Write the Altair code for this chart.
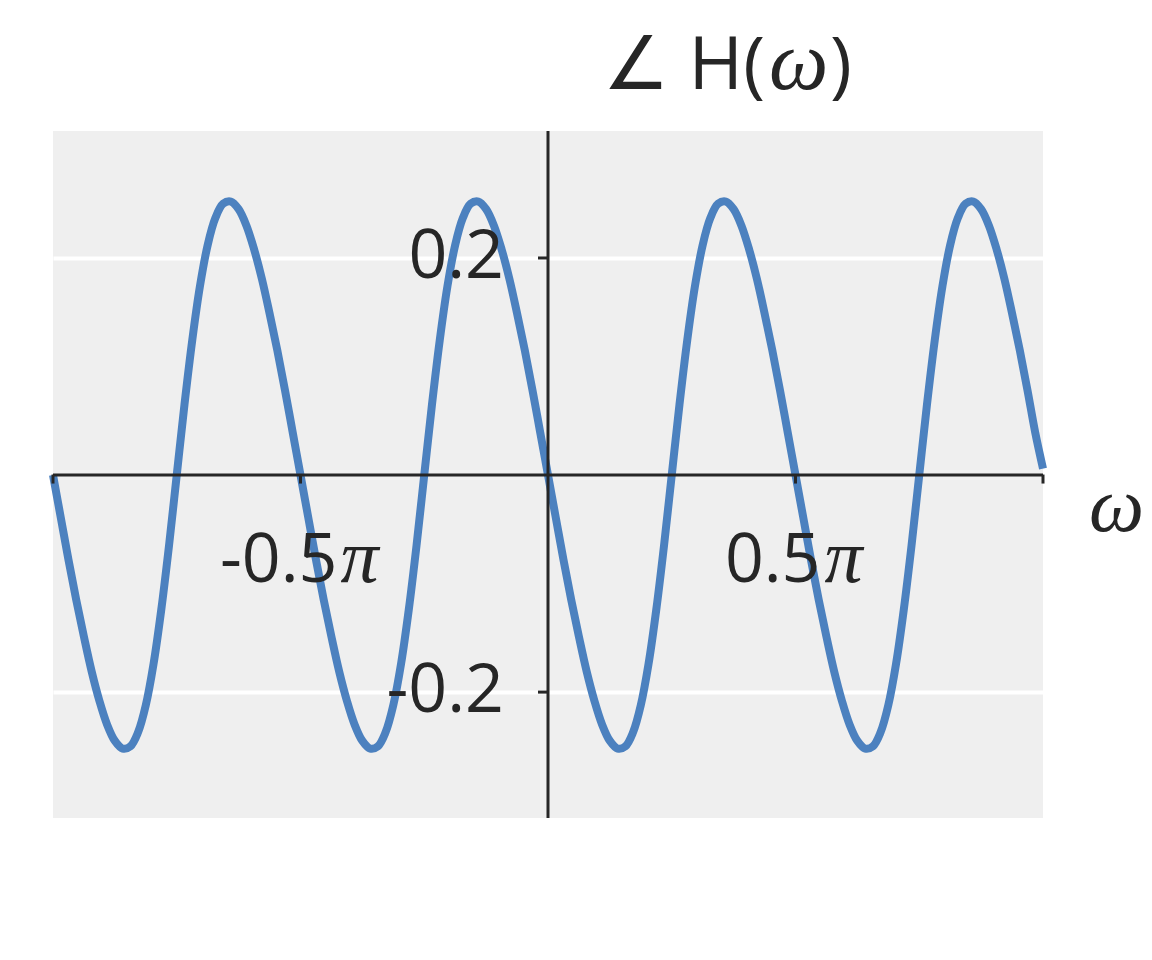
import altair as alt
import pandas as pd

# omega in units of pi, sampled every pi/64 from -pi to pi
omega = [i / 64 - 1 for i in range(129)]
# phase of H(omega) in radians
phase = [
    0.000, -0.039, -0.078, -0.115, -0.149, -0.181, -0.208, -0.230,
    -0.245, -0.252, -0.250, -0.237, -0.212, -0.174, -0.124, -0.065,
    0.000, 0.065, 0.124, 0.174, 0.212, 0.237, 0.250, 0.252,
    0.245, 0.230, 0.208, 0.181, 0.149, 0.115, 0.078, 0.039,
    0.000, -0.039, -0.078, -0.115, -0.149, -0.181, -0.208, -0.230,
    -0.245, -0.252, -0.250, -0.237, -0.212, -0.174, -0.124, -0.065,
    0.000, 0.065, 0.124, 0.174, 0.212, 0.237, 0.250, 0.252,
    0.245, 0.230, 0.208, 0.181, 0.149, 0.115, 0.078, 0.039,
    0.000, -0.039, -0.078, -0.115, -0.149, -0.181, -0.208, -0.230,
    -0.245, -0.252, -0.250, -0.237, -0.212, -0.174, -0.124, -0.065,
    0.000, 0.065, 0.124, 0.174, 0.212, 0.237, 0.250, 0.252,
    0.245, 0.230, 0.208, 0.181, 0.149, 0.115, 0.078, 0.039,
    0.000, -0.039, -0.078, -0.115, -0.149, -0.181, -0.208, -0.230,
    -0.245, -0.252, -0.250, -0.237, -0.212, -0.174, -0.124, -0.065,
    0.000, 0.065, 0.124, 0.174, 0.212, 0.237, 0.250, 0.252,
    0.245, 0.230, 0.208, 0.181, 0.149, 0.115, 0.078, 0.039,
    0.006,
]
x_ticks = [-1.0, -0.5, 0.5, 1.0]
x_label_vals = [-0.5, 0.5]
x_label_nums = ["-0.5", "0.5"]
y_ticks = [-0.2, 0.2]
y_labels = ["-0.2", "0.2"]

SANS = "Open Sans"
SERIF = "Liberation Serif"
INK = "#262626"
LBL = 68

df = pd.DataFrame({"w": omega, "phase": phase})
xs = alt.Scale(domain=[-1, 1], nice=False, zero=False)
ys = alt.Scale(domain=[-0.316, 0.317], nice=False, zero=False)

line = alt.Chart(df).mark_line(color="#4C81BF", strokeWidth=8, interpolate="catmull-rom",
                               strokeJoin="round", strokeCap="butt").encode(
    x=alt.X("w:Q", scale=xs, axis=None),
    y=alt.Y("phase:Q", scale=ys, axis=alt.Axis(
        values=y_ticks, grid=True, gridColor="white", gridWidth=4, gridOpacity=1,
        domain=False, ticks=False, labels=False, title=None)),
)

one = alt.Data(values=[{"a": 1}])
vrule = alt.Chart(one).mark_rule(color=INK, strokeWidth=3).encode(x=alt.X(datum=0, scale=xs))
hrule = alt.Chart(one).mark_rule(color=INK, strokeWidth=3).encode(y=alt.Y(datum=0, scale=ys))

ydf = pd.DataFrame({"y": y_ticks, "lab": y_labels})
xdf = pd.DataFrame({"x": x_ticks})

yticks = alt.Chart(ydf).mark_tick(color=INK, opacity=1, orient="horizontal", size=10, thickness=3,
                                  xOffset=-5).encode(
    x=alt.X(datum=0, scale=xs), y=alt.Y("y:Q", scale=ys))
xticks = alt.Chart(xdf).mark_tick(color=INK, opacity=1, orient="vertical", size=9, thickness=3,
                                  yOffset=4).encode(
    x=alt.X("x:Q", scale=xs), y=alt.Y(datum=0, scale=ys))

ylabels = alt.Chart(ydf).mark_text(font=SANS, fontSize=LBL, color=INK, align="right",
                                   baseline="alphabetic", dx=-44, dy=20).encode(
    x=alt.X(datum=0, scale=xs), y=alt.Y("y:Q", scale=ys), text="lab:N")

layers = [line, vrule, hrule, yticks, xticks, ylabels]

num_dx = {"-0.5": 37, "0.5": 25}
pi_dx = {"-0.5": 40, "0.5": 29}
for v, t in zip(x_label_vals, x_label_nums):
    d = alt.Data(values=[{"x": v, "t": t}])
    layers.append(alt.Chart(d).mark_text(font=SANS, fontSize=LBL, color=INK, align="right",
                                         baseline="alphabetic", dx=num_dx[t], dy=107).encode(
        x=alt.X("x:Q", scale=xs), y=alt.Y(datum=0, scale=ys), text="t:N"))
    layers.append(alt.Chart(d).mark_text(font=SERIF, fontStyle="italic", fontSize=LBL + 8, color=INK,
                                         align="left", baseline="alphabetic", dx=pi_dx[t], dy=107).encode(
        x=alt.X("x:Q", scale=xs), y=alt.Y(datum=0, scale=ys), text=alt.value("π")))

# axis title omega
layers.append(alt.Chart(one).mark_text(font=SERIF, fontStyle="italic", fontSize=78, color=INK,
                                       align="left", baseline="alphabetic").encode(
    x=alt.value(1036), y=alt.value(400), text=alt.value("ω")))

# title: ∠ H(ω)
layers.append(alt.Chart(one).mark_text(font=SANS, fontSize=74, color=INK,
                                       align="right", baseline="alphabetic").encode(
    x=alt.value(712), y=alt.value(-42), text=alt.value("∠ H(")))
layers.append(alt.Chart(one).mark_text(font=SERIF, fontStyle="italic", fontSize=84, color=INK,
                                       align="left", baseline="alphabetic").encode(
    x=alt.value(716), y=alt.value(-42), text=alt.value("ω")))
layers.append(alt.Chart(one).mark_text(font=SANS, fontSize=74, color=INK,
                                       align="left", baseline="alphabetic").encode(
    x=alt.value(777), y=alt.value(-42), text=alt.value(")")))

chart = alt.layer(*layers).properties(
    width=990, height=687,
    autosize=alt.AutoSizeParams(type="none"),
    padding={"left": 45, "top": 123, "right": 101, "bottom": 134},
    background="white",
).configure_view(fill="#EFEFEF", strokeWidth=0)

chart.save("out.html", embed_options={"renderer": "svg", "actions": False})
